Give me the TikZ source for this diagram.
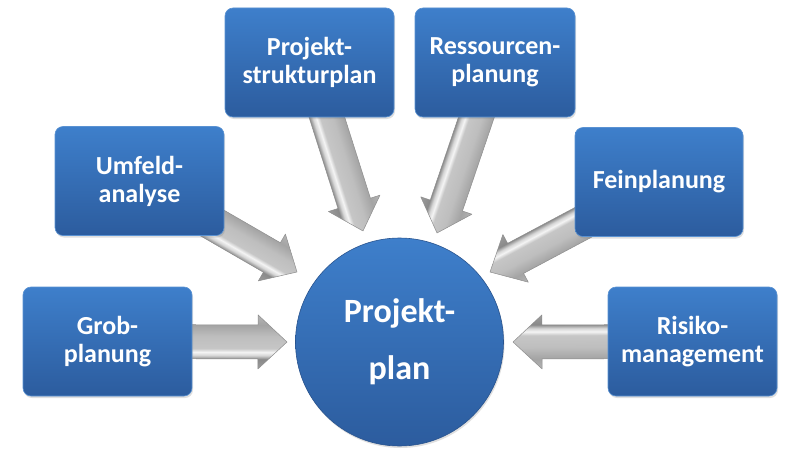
\documentclass[tikz,border=0pt]{standalone}
\usepackage{fontspec}
\setmainfont{Carlito}
\usetikzlibrary{calc,shadows}
\definecolor{boxtop}{HTML}{3E7FCB}
\definecolor{boxbot}{HTML}{2C5C9E}
\definecolor{boxedge}{HTML}{5A92D2}
\definecolor{arA}{HTML}{9C9C9C}
\definecolor{arB}{HTML}{8A8A8A}
\definecolor{arC}{HTML}{D6D6D6}
\definecolor{arD}{HTML}{F4F4F4}
\definecolor{arE}{HTML}{C6C6C6}
\definecolor{arF}{HTML}{BEBEBE}
\definecolor{arG}{HTML}{A4A4A4}
\definecolor{arH}{HTML}{B4B4B4}
\definecolor{arline}{HTML}{8E8E8E}
\pgfdeclareverticalshading{arrsh}{100bp}{color(0bp)=(arA); color(25bp)=(arA);
  color(34bp)=(arB); color(37.5bp)=(arC); color(40.5bp)=(arD); color(44bp)=(arE);
  color(55bp)=(arF); color(65.5bp)=(arG); color(75bp)=(arH); color(100bp)=(arH)}
\pgfdeclarelayer{background}
\pgfsetlayers{background,main}
\newcommand\blkarrow[2]{%
  \path let \p1=($(#2)-(#1)$) in \pgfextra{%
    \pgfmathsetmacro\tmpa{atan2(\y1,\x1)}\pgfmathsetmacro\tmpl{veclen(\x1,\y1)}%
    \xdef\arang{\tmpa}\xdef\arlen{\tmpl}};
  \begin{scope}[transform canvas={shift={(#1)},rotate=\arang}]
    \shade[shading=arrsh,draw=arline,line width=0.5pt,line join=round]
      (0pt,-17pt) -- ({\arlen pt-29pt},-17pt) -- ({\arlen pt-29pt},-27pt)
      -- (\arlen pt,0pt) -- ({\arlen pt-29pt},27pt) -- ({\arlen pt-29pt},17pt)
      -- (0pt,17pt) -- cycle;
  \end{scope}}
\begin{document}
\begin{tikzpicture}[x=1pt,y=-1pt,
  boxnode/.style={rectangle,rounded corners=8pt,minimum width=169pt,minimum height=109pt,
    top color=boxtop,bottom color=boxbot,draw=boxedge,line width=0.6pt,
    text=white,font=\bfseries\fontsize{26}{28}\selectfont,align=center,inner sep=0pt,
    drop shadow={shadow xshift=1pt,shadow yshift=-2pt,opacity=0.25}},
  hubnode/.style={circle,minimum size=208pt,inner sep=0pt,
    top color=boxtop,bottom color=boxbot,draw=boxbot!90!black,line width=0.6pt,
    text=white,font=\bfseries\fontsize{34}{55}\selectfont,align=center,
    drop shadow={shadow xshift=1pt,shadow yshift=-2pt,opacity=0.25}}]
\useasboundingbox (0,0) rectangle (800,452);
\begin{pgfonlayer}{background}
\fill[white] (0,0) rectangle (800,452);
\end{pgfonlayer}
% boxes
\node[boxnode] (grob) at (107.5,341.5) {Grob-\\planung};
\node[boxnode] (umf) at (139.5,181) {Umfeld-\\analyse};
\node[boxnode] (psp) at (309.5,62.5) {Projekt-\\strukturplan};
\node[boxnode,minimum width=160pt] (res) at (495,62.5) {Ressourcen-\\planung};
\node[boxnode,minimum width=168pt] (fein) at (659,182) {Feinplanung};
\node[boxnode] (risk) at (692.5,341.5) {Risiko-\\management};
\node[hubnode] (pp) at (399.5,342) {\raisebox{2pt}{Projekt-}\\plan};
% arrow tips
\coordinate (tgrob) at (287,342);
\coordinate (tumf) at (297,272);
\coordinate (tpsp) at (363,231);
\coordinate (tres) at (437,233);
\coordinate (tfein) at (490,272);
\coordinate (trisk) at (513,342);
% arrows behind the boxes
\begin{pgfonlayer}{background}
\blkarrow{grob.center}{tgrob}
\blkarrow{umf.center}{tumf}
\blkarrow{psp.center}{tpsp}
\blkarrow{res.center}{tres}
\blkarrow{fein.center}{tfein}
\blkarrow{risk.center}{trisk}
\end{pgfonlayer}
\end{tikzpicture}
\end{document}
